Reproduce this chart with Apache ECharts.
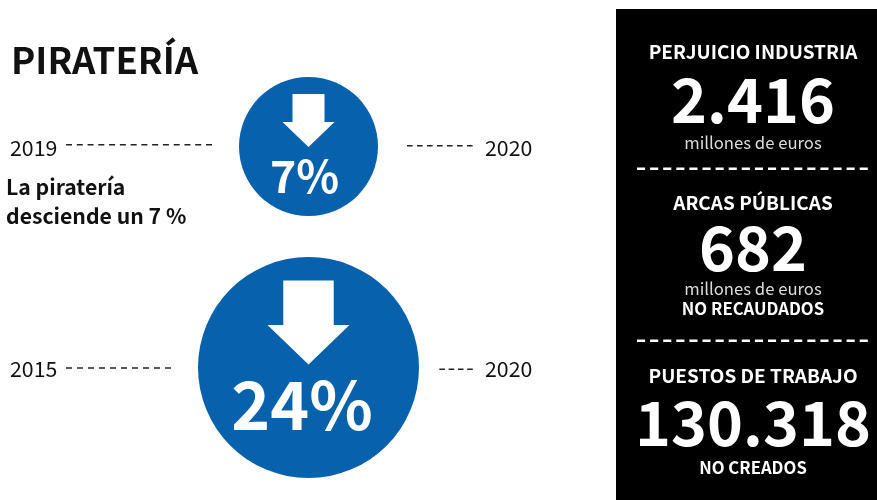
<!DOCTYPE html>
<html>
<head>
<meta charset="utf-8">
<style>html,body{margin:0;padding:0;background:#fff}#c{width:877px;height:500px}</style>
<script src="https://cdn.jsdelivr.net/npm/echarts@6/dist/echarts.min.js"></script>
</head>
<body>
<div id="c"></div>
<script>
// Figures
const periods = ['2019-2020', '2015-2020'];
const declines = [7, 24];
const startYears = ['2019', '2015'];
const endYears = ['2020', '2020'];
const headline = 'PIRATERÍA';
const noteLines = ['La piratería', 'desciende un 7 %'];
const panelTitles = ['PERJUICIO INDUSTRIA', 'ARCAS PÚBLICAS', 'PUESTOS DE TRABAJO'];
const panelValues = ['2.416', '682', '130.318'];

// Layout and style
const FONT = '"Noto Sans CJK SC", "Noto Sans", sans-serif';
const BLUE = '#0761ad';
const circleSizes = [139, 221];
const arrowSizes = [[52, 53], [82, 84]];
const arrowOffsets = [-26, -45];
const labelOffsets = [[-4, 30], [-6.5, 37]];
const labelSizes = [44.5, 66];
const ARROW = 'path://M10,0 L42,0 L42,28 L52,28 L26,53 L0,28 L10,28 Z';

const text = (x, y, str, size, weight, fill, align) => ({
  type: 'text', x, y,
  style: { text: str, font: `${weight} ${size}px ${FONT}`, fill: fill || '#111',
           textAlign: align || 'left', textVerticalAlign: 'middle' }
});
const dash = (x1, x2, y, pattern, color, width) => ({
  type: 'line', shape: { x1, y1: y, x2, y2: y },
  style: { stroke: color || '#222', lineWidth: width || 1.6, lineDash: pattern }
});

const PANEL_X = 753;
const RULE = [8.1, 5];
const graphics = [
  dash(66, 212.5, 144.7, [6, 4.77]), dash(407, 472.6, 145.7, [5.6, 4.4]),
  dash(66, 171.5, 368, [6, 5]), dash(439.3, 472.8, 369.3, [5.6, 3.7]),
  text(10, 148, startYears[0], 21.3, 400), text(485, 148, endYears[0], 21.3, 400),
  text(10, 369, startYears[1], 21.3, 400), text(485, 369, endYears[1], 21.3, 400),
  text(6, 187, noteLines[0], 21.2, 700), text(6, 216, noteLines[1], 21.2, 700),
  { type: 'rect', shape: { x: 616, y: 9, width: 261, height: 491 }, style: { fill: '#000' } },
  text(PANEL_X, 52, panelTitles[0], 19, 700, '#fff', 'center'),
  text(PANEL_X, 100, panelValues[0], 61, 700, '#fff', 'center'),
  text(PANEL_X, 143, 'millones de euros', 16.7, 400, '#ddd', 'center'),
  dash(637, 868, 168.7, RULE, '#fff', 2.6),
  text(PANEL_X, 203, panelTitles[1], 19, 700, '#fff', 'center'),
  text(PANEL_X, 248, panelValues[1], 61, 700, '#fff', 'center'),
  text(PANEL_X, 289, 'millones de euros', 16.7, 400, '#ddd', 'center'),
  text(PANEL_X, 309, 'NO RECAUDADOS', 16.7, 700, '#fff', 'center'),
  dash(637, 868, 340.7, RULE, '#fff', 2.6),
  text(PANEL_X, 376, panelTitles[2], 19, 700, '#fff', 'center'),
  text(PANEL_X, 423, panelValues[2], 61, 700, '#fff', 'center'),
  text(PANEL_X, 468, 'NO CREADOS', 16.7, 700, '#fff', 'center')
];

const chart = echarts.init(document.getElementById('c'), null, { renderer: 'canvas' });
chart.setOption({
  animation: false,
  backgroundColor: '#fff',
  title: { text: headline, left: 6, top: 37,
           textStyle: { fontFamily: FONT, fontSize: 36.5, fontWeight: 700, color: '#111' } },
  grid: { left: 198, width: 221, top: 36, height: 442 },
  xAxis: { type: 'category', data: ['descenso'], show: false },
  yAxis: { type: 'category', data: periods, inverse: true, show: false },
  series: [
    {
      type: 'scatter', z: 2,
      data: declines.map((v, i) => ({
        value: ['descenso', periods[i], v],
        symbolSize: circleSizes[i],
        label: { show: true, position: 'inside', offset: labelOffsets[i],
                 fontFamily: FONT, fontWeight: 700, fontSize: labelSizes[i], color: '#fff',
                 formatter: p => p.value[2] + '%' }
      })),
      itemStyle: { color: BLUE, opacity: 1 }
    },
    {
      type: 'scatter', z: 3, symbol: ARROW,
      data: declines.map((v, i) => ({
        value: ['descenso', periods[i], v],
        symbolSize: arrowSizes[i],
        symbolOffset: [0, arrowOffsets[i]]
      })),
      itemStyle: { color: '#fff', opacity: 1 }
    }
  ],
  graphic: { elements: graphics }
});
</script>
</body>
</html>
